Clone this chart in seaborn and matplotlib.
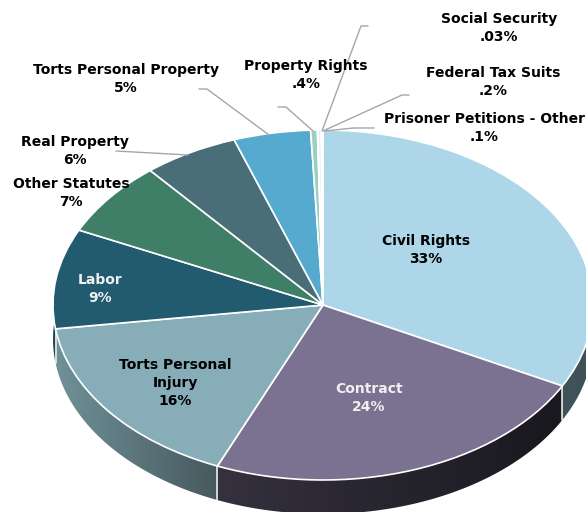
import numpy as np
import matplotlib
matplotlib.use('Agg')
import matplotlib.pyplot as plt
from matplotlib.lines import Line2D
from matplotlib.patches import Polygon
import seaborn as sns

categories = ['Civil Rights', 'Contract', 'Torts Personal\nInjury', 'Labor', 'Other Statutes',
              'Real Property', 'Torts Personal Property', 'Property Rights', 'Social Security',
              'Federal Tax Suits', 'Prisoner Petitions - Other']
# slice sizes, the printed labels are rounded
values = [32.6, 23.7, 16.4, 9.2, 6.9, 5.7, 4.6, 0.4, 0.03, 0.2, 0.1]
value_labels = ['33%', '24%', '16%', '9%', '7%', '6%', '5%', '.4%', '.03%', '.2%', '.1%']

slice_colors = ['#add7e9', '#7a7290', '#86adb8', '#225a70', '#3f7f68', '#4a6e78', '#57aacf',
                '#9ad0c0', '#c9d6dc', '#e8eef2', '#dfe8ec']
label_colors = ['black', '#f0f0f0', 'black', '#f0f0f0'] + ['black'] * 7

# layout, in pixels of the 586x512 picture
W, H = 586, 512
CX, CY, RX, RY, DEPTH = 323, 305, 270, 175, 34
label_xy = [(426, 250), (369, 398), (175, 383), (100, 289), (71, 193), (75, 151), (126, 79),
            (306, 75), (499, 28), (493, 82), (484, 128)]
leaders = [
    [(199, 89), (207, 89), (269, 135)],
    [(278, 107), (286, 107), (313, 131)],
    [(368, 26), (361, 26), (322, 131)],
    [(409, 95), (402, 95), (323, 131)],
    [(374, 128), (353, 128), (325, 131)],
    [(116, 151), (188, 155)],
]
# side wall shading: (slice index, left colour, right colour)
walls = [
    (0, '#4c646c', '#3f5158'),
    (1, '#35313f', '#19181e'),
    (2, '#6f9197', '#47595f'),
    (3, '#1b4a5c', '#1b4a5c'),
]


def fig_xy(x, y):
    return x / W, 1 - y / H


sns.set_theme(style='white')
plt.rcParams['font.family'] = ['DejaVu Sans']

fig = plt.figure(figsize=(W / 100, H / 100), dpi=100)
ax = fig.add_axes([0, 0, 1, 1])

ax.pie(values, colors=slice_colors, startangle=90, counterclock=False, radius=1,
       wedgeprops={'edgecolor': 'white', 'linewidth': 1.2, 'zorder': 5})
ax.set_aspect('auto')
ax.axis('off')

# side wall under the front slices
shares = np.array(values) / sum(values)
edges = np.concatenate([[0], np.cumsum(shares)]) * 2 * np.pi
drop = DEPTH / RY
for i, left, right in walls:
    t = np.linspace(edges[i], edges[i + 1], 200)
    x, y = np.sin(t), np.cos(t)
    top = np.column_stack([x, y])
    bottom = np.column_stack([x, y - drop])[::-1]
    band = np.vstack([top, bottom])
    cmap = sns.blend_palette([left, right], 64, as_cmap=True)
    patch = Polygon(band, closed=True, facecolor='none', edgecolor='none', transform=ax.transData)
    ax.add_patch(patch)
    im = ax.imshow(np.linspace(0, 1, 128).reshape(1, -1), cmap=cmap, aspect='auto', zorder=2,
                   extent=[x.min(), x.max(), (y - drop).min(), y.max()])
    im.set_clip_path(patch)
    # white seam along the front of each wall
    ax.plot([x[-1], x[-1]], [y[-1], y[-1] - drop], color='#e6e6e6', lw=1.2, zorder=3)
ax.set_xlim(-CX / RX, (W - CX) / RX)
ax.set_ylim((CY - H) / RY, CY / RY)

for pts in leaders:
    xs, ys = zip(*[fig_xy(*p) for p in pts])
    fig.add_artist(Line2D(xs, ys, color='#a6a6a6', lw=1.0, transform=fig.transFigure))

for name, val, (x, y), col in zip(categories, value_labels, label_xy, label_colors):
    fx, fy = fig_xy(x, y)
    fig.text(fx, fy, name + '\n' + val, ha='center', va='center', color=col, fontsize=10,
             fontweight='bold', linespacing=1.4, zorder=10)

fig.savefig('out.png', dpi=100)
